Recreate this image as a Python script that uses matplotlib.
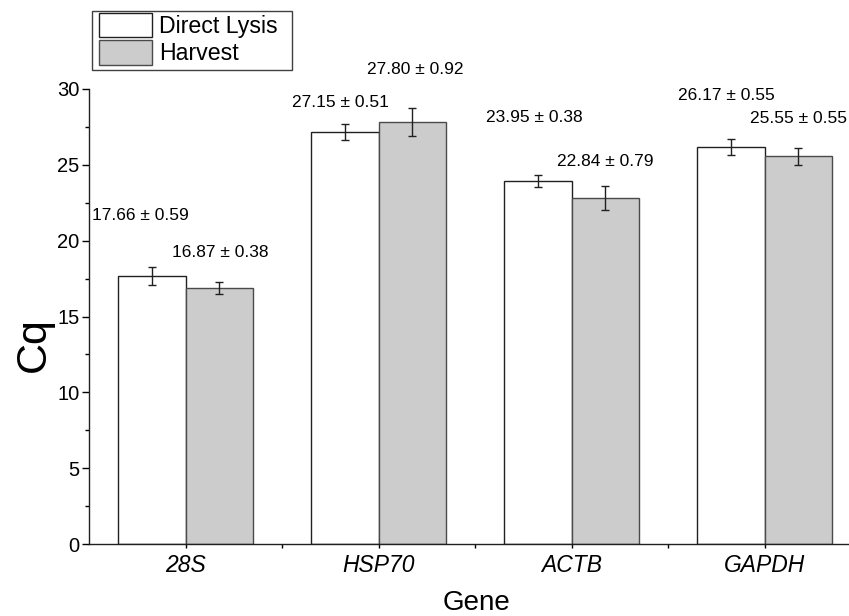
import matplotlib
matplotlib.use("Agg")
import matplotlib.pyplot as plt
import numpy as np
from matplotlib.ticker import MultipleLocator, FixedLocator
from matplotlib.patches import Rectangle

plt.rcParams['font.family'] = ['Liberation Sans', 'DejaVu Sans']

genes = ["28S", "HSP70", "ACTB", "GAPDH"]
direct_lysis = [17.66, 27.15, 23.95, 26.17]
direct_lysis_sd = [0.59, 0.51, 0.38, 0.55]
harvest = [16.87, 27.80, 22.84, 25.55]
harvest_sd = [0.38, 0.92, 0.79, 0.55]

# where the value annotations sit (data units)
label_y_direct = [21.69, 29.10, 28.13, 29.60]
label_y_harvest = [19.21, 31.30, 25.21, 28.07]
label_dx_direct = [-0.06, -0.02, -0.02, -0.02]
label_dx_harvest = [0.005, 0.013, 0.0, 0.0]

W, H = 849, 616
fig = plt.figure(figsize=(W / 100, H / 100), dpi=100)
ax = fig.add_axes([89 / W, 1 - 544 / H, (861 - 89) / W, (544 - 89) / H])

x = np.arange(1, len(genes) + 1)
bw = 0.35
ax.bar(x - bw / 2, direct_lysis, width=bw, color="white", edgecolor="#202020",
       linewidth=1.0, label="Direct Lysis", zorder=2)
ax.bar(x + bw / 2, harvest, width=bw, color="#cccccc", edgecolor="#4a4a4a",
       linewidth=1.0, label="Harvest", zorder=2)
ax.errorbar(x - bw / 2, direct_lysis, yerr=direct_lysis_sd, fmt="none",
            ecolor="#202020", elinewidth=1.0, capsize=3, capthick=1.0, zorder=3)
ax.errorbar(x + bw / 2, harvest, yerr=harvest_sd, fmt="none",
            ecolor="#202020", elinewidth=1.0, capsize=3, capthick=1.0, zorder=3)

for i in range(len(genes)):
    ax.text(x[i] - bw / 2 + label_dx_direct[i], label_y_direct[i],
            f"{direct_lysis[i]:.2f} ± {direct_lysis_sd[i]:.2f}",
            ha="center", va="center", fontsize=12.5, clip_on=False)
    ax.text(x[i] + bw / 2 + label_dx_harvest[i], label_y_harvest[i],
            f"{harvest[i]:.2f} ± {harvest_sd[i]:.2f}",
            ha="center", va="center", fontsize=12.5, clip_on=False)

ax.set_xlim(0.5, 4.5)
ax.set_ylim(0, 30)
ax.spines["top"].set_visible(False)
ax.spines["right"].set_visible(False)
for s in ("left", "bottom"):
    ax.spines[s].set_linewidth(1.0)
    ax.spines[s].set_color("#202020")

ax.set_xticks(x)
ax.set_xticklabels(genes, fontsize=16.5, fontstyle="italic")
ax.xaxis.set_minor_locator(FixedLocator(x[:-1] + 0.5))
ax.yaxis.set_major_locator(MultipleLocator(5))
ax.yaxis.set_minor_locator(MultipleLocator(2.5))
ax.tick_params(axis="y", which="major", direction="out", length=5, width=1,
               labelsize=14.5, pad=2)
ax.tick_params(axis="y", which="minor", direction="out", length=3, width=1)
ax.tick_params(axis="x", which="major", direction="out", length=3, width=1, pad=4)
ax.tick_params(axis="x", which="minor", direction="out", length=3, width=1)

fig.text(34 / W, 1 - 345 / H, "Cq", rotation=90, fontsize=31,
         ha="center", va="center")
fig.text(476 / W, 1 - 603 / H, "Gene", fontsize=20, ha="center", va="center")

# legend entries without their own frame; box drawn separately
leg = ax.legend(loc="upper left", bbox_to_anchor=(96.5 / W, 1 - 10.5 / H),
                bbox_transform=fig.transFigure, fontsize=16.7,
                handlelength=2.28, handleheight=1.22, handletextpad=0.3,
                labelspacing=0.1, borderpad=0.12, borderaxespad=0,
                frameon=False)
leg.legend_handles[0].set_edgecolor("#202020")
leg.legend_handles[1].set_edgecolor("#4a4a4a")
fig.patches.append(Rectangle((92.3 / W, 1 - 70 / H), (291.7 - 92.3) / W,
                             (70 - 10.7) / H, transform=fig.transFigure,
                             facecolor="none", edgecolor="#404040",
                             linewidth=1.0))

fig.savefig("out.png", dpi=100)
